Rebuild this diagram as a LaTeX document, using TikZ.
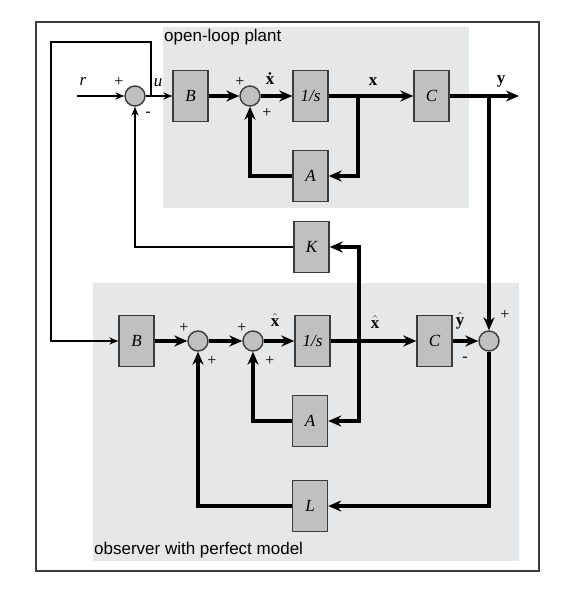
\documentclass[tikz,border=0pt]{standalone}
\usepackage{fontspec}
\setmainfont{Liberation Serif}
\newfontfamily\regionfont{Liberation Sans}
\usetikzlibrary{arrows.meta}
\definecolor{regionG}{RGB}{230,231,233}
\definecolor{blockG}{RGB}{192,192,192}
\definecolor{edgeG}{RGB}{60,60,60}
\tikzset{
    blk/.style={draw=edgeG, fill=blockG, line width=1.4pt, minimum width=35pt, minimum height=51pt,
        inner sep=0pt, font=\fontsize{17}{19}\selectfont\itshape},
    summ/.style={draw=edgeG, fill=blockG, circle, line width=1.4pt, minimum size=20pt, inner sep=0pt},
    busT/.style={line width=4pt},
    wireT/.style={busT, -{Stealth[length=13pt,width=11pt]}},
    wireN/.style={line width=1.3pt, -{Stealth[length=9pt,width=7pt]}},
    sgn/.style={inner sep=0pt, font=\fontsize{16}{18}\selectfont},
    sig/.style={inner sep=0pt, font=\fontsize{17}{19}\selectfont}
}
\begin{document}
\begin{tikzpicture}[x=1pt, y=-1pt]
    \useasboundingbox (0,0) rectangle (567,596);
    \def \rowA {96}
    \def \rowB {341}
    % frame and the two regions
    \draw[edgeG, line width=1.4pt] (36,22) rectangle (539,571);
    \fill[regionG] (163,27) rectangle (469,208);
    \fill[regionG] (93,283) rectangle (519,561);
    \node[anchor=base west, inner sep=0pt, font=\regionfont\fontsize{17}{20}\selectfont] (plantlbl) at (164,42) {open-loop plant};
    \node[anchor=base west, inner sep=0pt, font=\regionfont\fontsize{17}{20}\selectfont] (obslbl) at (94,554) {observer with perfect model};
    % open-loop plant
    \coordinate (rin) at (77,\rowA);
    \node[summ] (s1) at (135,\rowA) {};
    \coordinate (ub) at (151,\rowA);
    \node[blk] (b1) at (190.5,\rowA) {B};
    \node[summ] (s2) at (250,\rowA) {};
    \node[blk] (i1) at (310.5,\rowA) {1/s};
    \coordinate (xb) at (358,\rowA);
    \node[blk] (c1) at (431.5,\rowA) {C};
    \coordinate (yb) at (489,\rowA);
    \coordinate (yo) at (519,\rowA);
    \node[blk] (a1) at (310.5,176) {A};
    % gain
    \node[blk] (k) at (311.5,247) {K};
    % observer
    \coordinate (ul) at (51,42);
    \node[blk] (b2) at (136.5,\rowB) {B};
    \node[summ] (s3) at (198,\rowB) {};
    \node[summ] (s4) at (253,\rowB) {};
    \node[blk] (i2) at (312.5,\rowB) {1/s};
    \coordinate (xhb) at (359,\rowB);
    \node[blk] (c2) at (434.5,\rowB) {C};
    \node[summ] (s5) at (489,\rowB) {};
    \node[blk] (a2) at (310,421) {A};
    \node[blk] (l) at (310,506) {L};
    % thin wires
    \draw[wireN] (rin) -- (s1);
    \draw[wireN] (s1) -- (b1);
    \draw[wireN] (ub) |- (ul) |- (b2);
    \draw[wireN] (k) -| (s1);
    % thick wires, plant
    \draw[wireT] (b1) -- (s2);
    \draw[wireT] (s2) -- (i1);
    \draw[wireT] (i1) -- (c1);
    \draw[wireT] (c1) -- (yo);
    \draw[wireT] (xb) |- (a1);
    \draw[wireT] (a1) -| (s2);
    \draw[wireT] (yb) -- (s5);
    % thick wires, observer
    \draw[wireT] (b2) -- (s3);
    \draw[wireT] (s3) -- (s4);
    \draw[wireT] (s4) -- (i2);
    \draw[wireT] (i2) -- (c2);
    \draw[wireT] (c2) -- (s5);
    \draw[wireT] (xhb) |- (k);
    \draw[wireT] (xhb) |- (a2);
    \draw[wireT] (a2) -| (s4);
    \draw[wireT] (s5) |- (l);
    \draw[wireT] (l) -| (s3);
    % signal names
    \node[sig] (rlbl) at (83,81) {\textit{r}};
    \node[sig] (ulbl) at (158,83) {\textit{u}};
    \node[sig] (xdlbl) at (270,79) {\textbf{x\char"0307}};
    \node[sig] (xlbl) at (373,82) {\textbf{x}};
    \node[sig] (ylbl) at (501,81) {\textbf{y}};
    \node[sig] (xhdlbl) at (275,320) {$\hat{\mbox{\textbf{x}}}$};
    \node[sig] (xhlbl) at (375,322) {$\hat{\mbox{\textbf{x}}}$};
    \node[sig] (yhlbl) at (460,321) {$\hat{\mbox{\textbf{y}}}$};
    % signs
    \node[sgn] (p1) at (119,82) {+};
    \node[sgn] (m1) at (148,114) {-};
    \node[sgn] (p2) at (240,82) {+};
    \node[sgn] (p3) at (267,113) {+};
    \node[sgn] (p4) at (184,328) {+};
    \node[sgn] (p5) at (212,361) {+};
    \node[sgn] (p6) at (242,328) {+};
    \node[sgn] (p7) at (270,361) {+};
    \node[sgn] (p8) at (505,315) {+};
    \node[sgn] (m2) at (465,359) {-};
\end{tikzpicture}
\end{document}
